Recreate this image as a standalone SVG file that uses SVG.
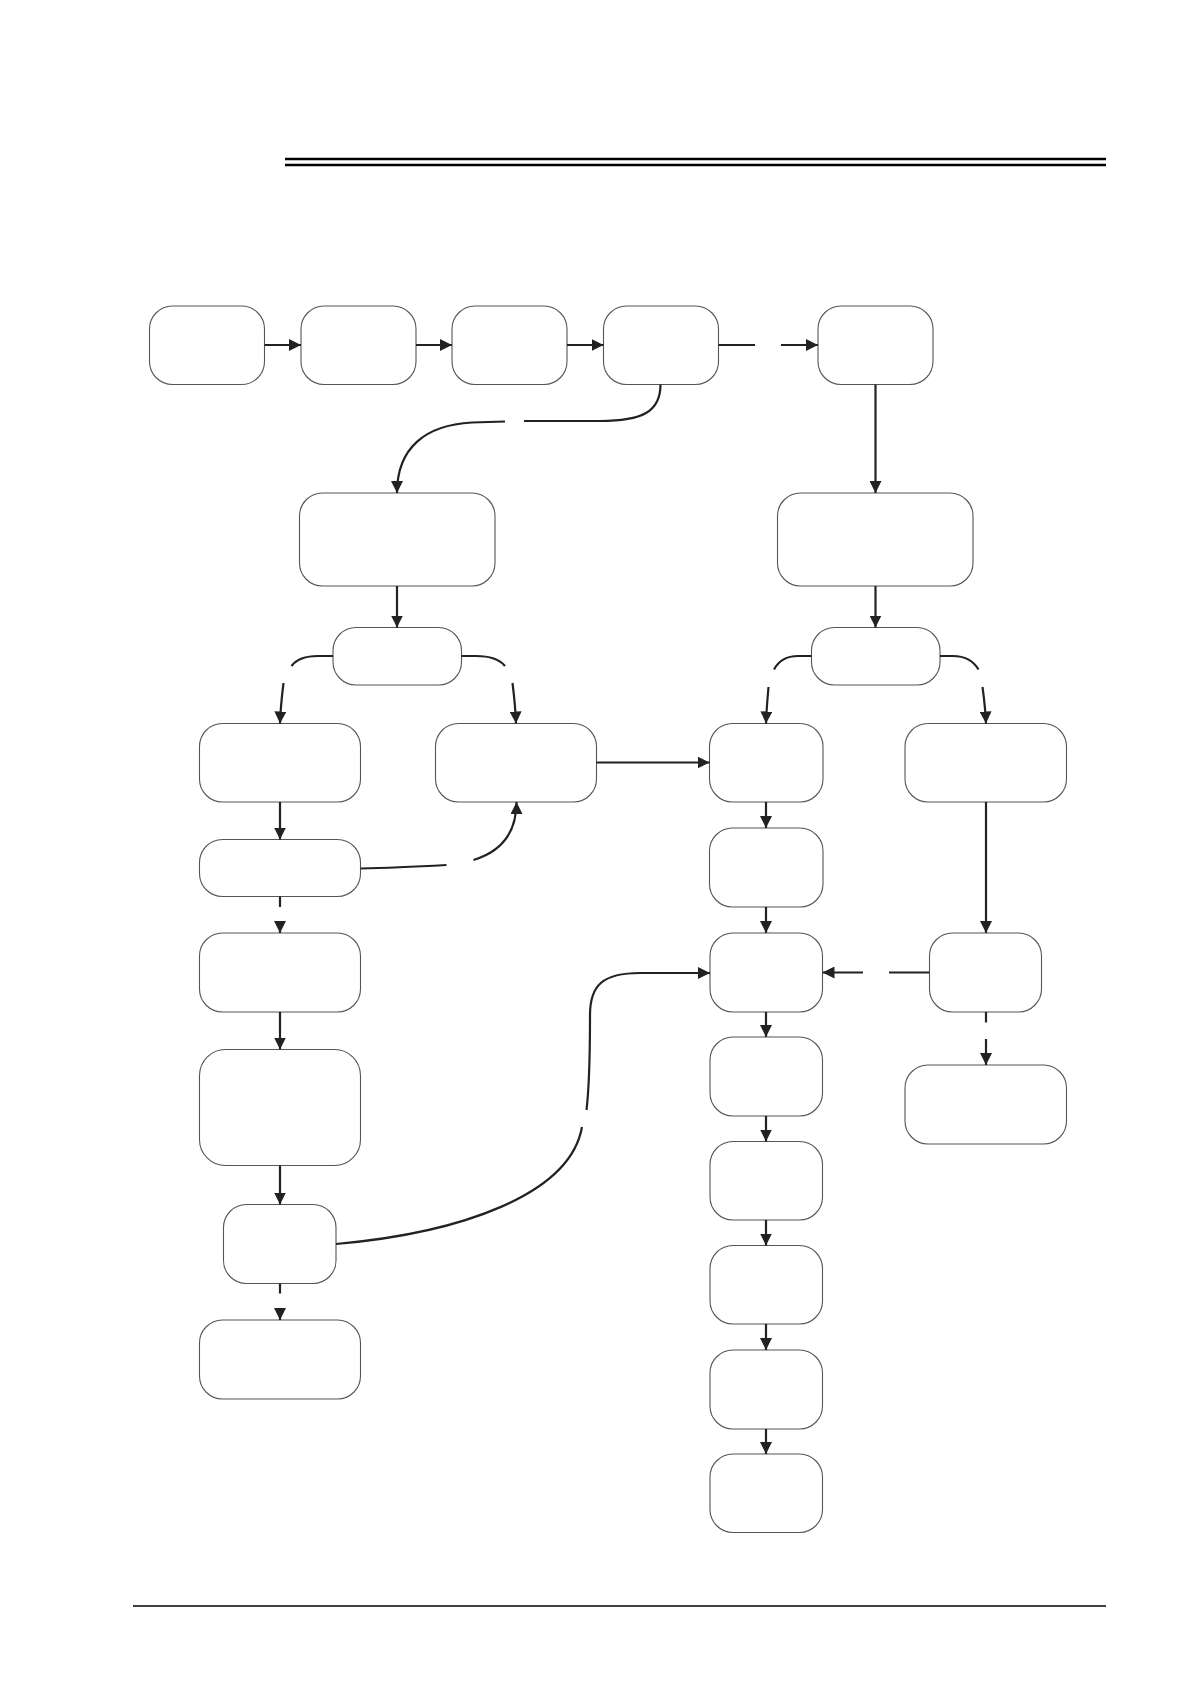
<svg xmlns="http://www.w3.org/2000/svg" width="1191" height="1684" viewBox="0 0 1191 1684">
<style>
.n{fill:#fff;stroke:#555;stroke-width:1.1}
.c{fill:none;stroke:#222;stroke-width:2.2}
.a{fill:none;stroke:#222;stroke-width:2.2;marker-end:url(#ah)}
.rule{stroke:#000}
</style>
<defs>
<marker id="ah" markerUnits="userSpaceOnUse" markerWidth="12" markerHeight="12" refX="12" refY="6" orient="auto">
<path d="M0,0 L12,6 L0,12 z" fill="#222"/>
</marker>
</defs>
<rect width="1191" height="1684" fill="#fff"/>
<g id="header">
<line class="rule" x1="285" y1="159" x2="1106" y2="159" stroke-width="2.5"/>
<line class="rule" x1="285" y1="165" x2="1106" y2="165" stroke-width="2.5"/>
</g>
<g id="footer">
<line class="rule" x1="133" y1="1606" x2="1106" y2="1606" stroke-width="1.3"/>
</g>
<g id="nodes">
<g id="nA"><rect class="n" x="149.5" y="306" width="115" height="78.5" rx="23"/></g>
<g id="nB"><rect class="n" x="301" y="306" width="115" height="78.5" rx="23"/></g>
<g id="nC"><rect class="n" x="452" y="306" width="115" height="78.5" rx="23"/></g>
<g id="nD"><rect class="n" x="603.5" y="306" width="115" height="78.5" rx="23"/></g>
<g id="nE"><rect class="n" x="818" y="306" width="115" height="78.5" rx="23"/></g>
<g id="nF"><rect class="n" x="299.5" y="493" width="195.5" height="93" rx="23"/></g>
<g id="nG"><rect class="n" x="777.5" y="493" width="195.5" height="93" rx="23"/></g>
<g id="nH"><rect class="n" x="333" y="627.5" width="128.5" height="57.5" rx="23"/></g>
<g id="nI"><rect class="n" x="811.5" y="627.5" width="128.5" height="57.5" rx="23"/></g>
<g id="nJ"><rect class="n" x="199.5" y="723.5" width="161" height="78.5" rx="23"/></g>
<g id="nK"><rect class="n" x="435.5" y="723.5" width="161" height="78.5" rx="23"/></g>
<g id="nL"><rect class="n" x="709.5" y="723.5" width="113.5" height="78.5" rx="23"/></g>
<g id="nM"><rect class="n" x="905" y="723.5" width="161.5" height="78.5" rx="23"/></g>
<g id="nN"><rect class="n" x="199.5" y="839.5" width="161" height="57" rx="23"/></g>
<g id="nT"><rect class="n" x="709.5" y="828" width="113.5" height="79" rx="23"/></g>
<g id="nO"><rect class="n" x="199.5" y="933" width="161" height="79" rx="23"/></g>
<g id="nS"><rect class="n" x="710" y="933" width="112.5" height="79" rx="23"/></g>
<g id="nU"><rect class="n" x="929.5" y="933" width="112" height="79" rx="23"/></g>
<g id="nP"><rect class="n" x="199.5" y="1049.5" width="161" height="116" rx="26"/></g>
<g id="nW"><rect class="n" x="710" y="1037" width="112.5" height="79" rx="23"/></g>
<g id="nV"><rect class="n" x="905" y="1065" width="161.5" height="79" rx="23"/></g>
<g id="nX"><rect class="n" x="710" y="1141.5" width="112.5" height="78.5" rx="23"/></g>
<g id="nQ"><rect class="n" x="223.5" y="1204.5" width="112.5" height="79" rx="23"/></g>
<g id="nY"><rect class="n" x="710" y="1245.5" width="112.5" height="78.5" rx="23"/></g>
<g id="nR"><rect class="n" x="199.5" y="1320" width="161" height="79" rx="23"/></g>
<g id="nZ"><rect class="n" x="710" y="1350" width="112.5" height="79" rx="23"/></g>
<g id="nAA"><rect class="n" x="710" y="1454" width="112.5" height="78.5" rx="23"/></g>
</g>
<g id="connectors">
<path class="a" d="M264.5,345 L301,345"/>
<path class="a" d="M416,345 L452,345"/>
<path class="a" d="M567,345 L603.5,345"/>
<path class="c" d="M718.5,345 L755,345"/>
<path class="a" d="M781,345 L818,345"/>
<path class="c" d="M660.5,384.5 C660.5,412 642,421 600,421 L524,421"/>
<path class="a" d="M505,421.5 L472,422.5 C425,425 397,448 397,493"/>
<path class="a" d="M875.5,384.5 L875.5,493"/>
<path class="a" d="M397,586 L397,627.5"/>
<path class="a" d="M875.5,586 L875.5,627.5"/>
<path class="c" d="M333,656 L318,656 C305,656 296,660 291.5,666"/>
<path class="a" d="M283.5,683 C282,695 280.5,708 280,723.5"/>
<path class="c" d="M461.5,656 L476,656 C490,656 500,660 505,666"/>
<path class="a" d="M512.5,683 C514,695 515.5,708 516,723.5"/>
<path class="c" d="M811.5,656 L798,656 C786,656 778,662 774,669.5"/>
<path class="a" d="M768.5,687 C767.5,698 766.5,710 766,723.5"/>
<path class="c" d="M940,656 L953,656 C966,656 974,662 978.5,669.5"/>
<path class="a" d="M982.5,687 C984,698 985.5,710 986,723.5"/>
<path class="a" d="M596.5,762.5 L709.5,762.5"/>
<path class="a" d="M280,802 L280,839.5"/>
<path class="c" d="M360.5,868.5 C390,868 420,866.5 446.5,865"/>
<path class="a" d="M473.5,860 C500,852 516.5,835 516.5,802"/>
<path class="c" d="M280,896.5 L280,907"/>
<path class="a" d="M280,921 L280,933"/>
<path class="a" d="M280,1012 L280,1049.5"/>
<path class="a" d="M280,1165.5 L280,1204.5"/>
<path class="c" d="M280,1283.5 L280,1293.5"/>
<path class="a" d="M280,1308 L280,1320"/>
<path class="c" d="M336,1244 C460,1233 570,1195 582,1127"/>
<path class="a" d="M586.5,1110 C589.5,1085 590,1055 590,1015 C590,985 603,973 640,973 L710,973"/>
<path class="a" d="M766,802 L766,828"/>
<path class="a" d="M766,907 L766,933"/>
<path class="a" d="M766,1012 L766,1037"/>
<path class="a" d="M766,1116 L766,1141.5"/>
<path class="a" d="M766,1220 L766,1245.5"/>
<path class="a" d="M766,1324 L766,1350"/>
<path class="a" d="M766,1429 L766,1454"/>
<path class="a" d="M986,802 L986,933"/>
<path class="c" d="M929.5,972.5 L889,972.5"/>
<path class="a" d="M863,972.5 L822.5,972.5"/>
<path class="c" d="M986,1012 L986,1022.5"/>
<path class="a" d="M986,1039 L986,1065"/>
</g>
</svg>
